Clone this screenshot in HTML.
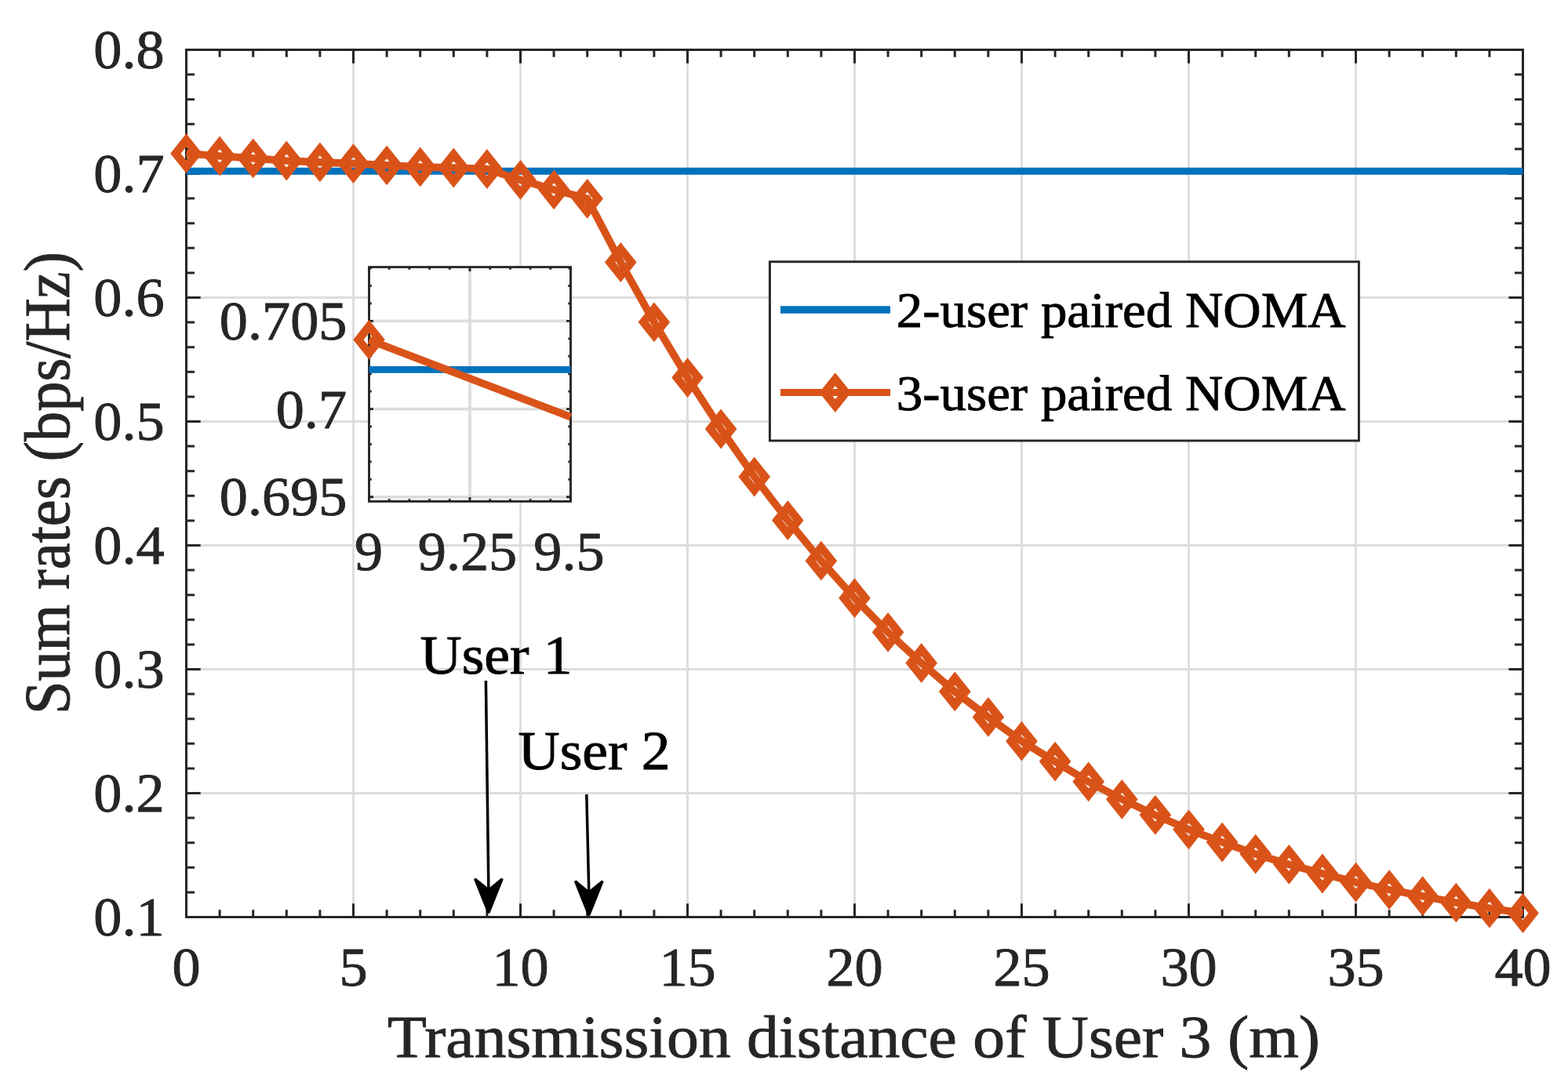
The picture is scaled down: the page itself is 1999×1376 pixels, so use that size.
<!DOCTYPE html><html><head><meta charset="utf-8"><title>Sum rates vs transmission distance</title><style>html,body{margin:0;padding:0;background:#fff;width:1999px;height:1376px;overflow:hidden}svg{display:block}</style></head><body><svg width="1999" height="1376" viewBox="0 0 1999 1376">
<rect width="1999" height="1376" fill="#fff"/>
<path d="M450.50 63.50V1169.50M663.50 63.50V1169.50M876.50 63.50V1169.50M1089.50 63.50V1169.50M1302.50 63.50V1169.50M1515.50 63.50V1169.50M1728.50 63.50V1169.50M237.50 1011.50H1941.50M237.50 853.50H1941.50M237.50 695.50H1941.50M237.50 537.50H1941.50M237.50 379.50H1941.50M237.50 221.50H1941.50" stroke="#dddddd" stroke-width="2.9" fill="none"/>
<path d="M237.50 1169.50v-17.2M237.50 63.50v17.2M280.10 1169.50v-9.2M280.10 63.50v9.2M322.70 1169.50v-9.2M322.70 63.50v9.2M365.30 1169.50v-9.2M365.30 63.50v9.2M407.90 1169.50v-9.2M407.90 63.50v9.2M450.50 1169.50v-17.2M450.50 63.50v17.2M493.10 1169.50v-9.2M493.10 63.50v9.2M535.70 1169.50v-9.2M535.70 63.50v9.2M578.30 1169.50v-9.2M578.30 63.50v9.2M620.90 1169.50v-9.2M620.90 63.50v9.2M663.50 1169.50v-17.2M663.50 63.50v17.2M706.10 1169.50v-9.2M706.10 63.50v9.2M748.70 1169.50v-9.2M748.70 63.50v9.2M791.30 1169.50v-9.2M791.30 63.50v9.2M833.90 1169.50v-9.2M833.90 63.50v9.2M876.50 1169.50v-17.2M876.50 63.50v17.2M919.10 1169.50v-9.2M919.10 63.50v9.2M961.70 1169.50v-9.2M961.70 63.50v9.2M1004.30 1169.50v-9.2M1004.30 63.50v9.2M1046.90 1169.50v-9.2M1046.90 63.50v9.2M1089.50 1169.50v-17.2M1089.50 63.50v17.2M1132.10 1169.50v-9.2M1132.10 63.50v9.2M1174.70 1169.50v-9.2M1174.70 63.50v9.2M1217.30 1169.50v-9.2M1217.30 63.50v9.2M1259.90 1169.50v-9.2M1259.90 63.50v9.2M1302.50 1169.50v-17.2M1302.50 63.50v17.2M1345.10 1169.50v-9.2M1345.10 63.50v9.2M1387.70 1169.50v-9.2M1387.70 63.50v9.2M1430.30 1169.50v-9.2M1430.30 63.50v9.2M1472.90 1169.50v-9.2M1472.90 63.50v9.2M1515.50 1169.50v-17.2M1515.50 63.50v17.2M1558.10 1169.50v-9.2M1558.10 63.50v9.2M1600.70 1169.50v-9.2M1600.70 63.50v9.2M1643.30 1169.50v-9.2M1643.30 63.50v9.2M1685.90 1169.50v-9.2M1685.90 63.50v9.2M1728.50 1169.50v-17.2M1728.50 63.50v17.2M1771.10 1169.50v-9.2M1771.10 63.50v9.2M1813.70 1169.50v-9.2M1813.70 63.50v9.2M1856.30 1169.50v-9.2M1856.30 63.50v9.2M1898.90 1169.50v-9.2M1898.90 63.50v9.2M1941.50 1169.50v-17.2M1941.50 63.50v17.2M237.50 1169.50h18.2M1941.50 1169.50h-18.2M237.50 1137.90h10.5M1941.50 1137.90h-10.5M237.50 1106.30h10.5M1941.50 1106.30h-10.5M237.50 1074.70h10.5M1941.50 1074.70h-10.5M237.50 1043.10h10.5M1941.50 1043.10h-10.5M237.50 1011.50h18.2M1941.50 1011.50h-18.2M237.50 979.90h10.5M1941.50 979.90h-10.5M237.50 948.30h10.5M1941.50 948.30h-10.5M237.50 916.70h10.5M1941.50 916.70h-10.5M237.50 885.10h10.5M1941.50 885.10h-10.5M237.50 853.50h18.2M1941.50 853.50h-18.2M237.50 821.90h10.5M1941.50 821.90h-10.5M237.50 790.30h10.5M1941.50 790.30h-10.5M237.50 758.70h10.5M1941.50 758.70h-10.5M237.50 727.10h10.5M1941.50 727.10h-10.5M237.50 695.50h18.2M1941.50 695.50h-18.2M237.50 663.90h10.5M1941.50 663.90h-10.5M237.50 632.30h10.5M1941.50 632.30h-10.5M237.50 600.70h10.5M1941.50 600.70h-10.5M237.50 569.10h10.5M1941.50 569.10h-10.5M237.50 537.50h18.2M1941.50 537.50h-18.2M237.50 505.90h10.5M1941.50 505.90h-10.5M237.50 474.30h10.5M1941.50 474.30h-10.5M237.50 442.70h10.5M1941.50 442.70h-10.5M237.50 411.10h10.5M1941.50 411.10h-10.5M237.50 379.50h18.2M1941.50 379.50h-18.2M237.50 347.90h10.5M1941.50 347.90h-10.5M237.50 316.30h10.5M1941.50 316.30h-10.5M237.50 284.70h10.5M1941.50 284.70h-10.5M237.50 253.10h10.5M1941.50 253.10h-10.5M237.50 221.50h18.2M1941.50 221.50h-18.2M237.50 189.90h10.5M1941.50 189.90h-10.5M237.50 158.30h10.5M1941.50 158.30h-10.5M237.50 126.70h10.5M1941.50 126.70h-10.5M237.50 95.10h10.5M1941.50 95.10h-10.5M237.50 63.50h18.2M1941.50 63.50h-18.2" stroke="#262626" stroke-width="3.0" fill="none"/>
<rect x="237.5" y="63.5" width="1704.0" height="1106.0" stroke="#262626" stroke-width="3.0" fill="none"/>
<path d="M237.5 218.3H1941.5" stroke="#0072bd" stroke-width="8.9" fill="none"/>
<polyline points="237.50,195.70 280.10,199.00 322.70,201.90 365.30,205.00 407.90,206.90 450.50,208.60 493.10,210.80 535.70,212.90 578.30,214.00 620.90,215.50 663.50,229.30 706.10,241.80 748.70,253.30 791.30,334.50 833.90,410.80 876.50,481.60 919.10,547.00 961.70,608.00 1004.30,663.60 1046.90,715.20 1089.50,762.70 1132.10,806.30 1174.70,845.50 1217.30,881.90 1259.90,914.40 1302.50,945.20 1345.10,971.10 1387.70,996.80 1430.30,1019.30 1472.90,1039.30 1515.50,1057.80 1558.10,1074.10 1600.70,1089.10 1643.30,1102.30 1685.90,1114.00 1728.50,1125.10 1771.10,1134.60 1813.70,1142.70 1856.30,1151.10 1898.90,1158.20 1941.50,1164.50" stroke="#d95319" stroke-width="9.6" fill="none" stroke-linejoin="miter"/>
<path d="M237.50 178.70L251.10 195.70L237.50 212.70L223.90 195.70ZM280.10 182.00L293.70 199.00L280.10 216.00L266.50 199.00ZM322.70 184.90L336.30 201.90L322.70 218.90L309.10 201.90ZM365.30 188.00L378.90 205.00L365.30 222.00L351.70 205.00ZM407.90 189.90L421.50 206.90L407.90 223.90L394.30 206.90ZM450.50 191.60L464.10 208.60L450.50 225.60L436.90 208.60ZM493.10 193.80L506.70 210.80L493.10 227.80L479.50 210.80ZM535.70 195.90L549.30 212.90L535.70 229.90L522.10 212.90ZM578.30 197.00L591.90 214.00L578.30 231.00L564.70 214.00ZM620.90 198.50L634.50 215.50L620.90 232.50L607.30 215.50ZM663.50 212.30L677.10 229.30L663.50 246.30L649.90 229.30ZM706.10 224.80L719.70 241.80L706.10 258.80L692.50 241.80ZM748.70 236.30L762.30 253.30L748.70 270.30L735.10 253.30ZM791.30 317.50L804.90 334.50L791.30 351.50L777.70 334.50ZM833.90 393.80L847.50 410.80L833.90 427.80L820.30 410.80ZM876.50 464.60L890.10 481.60L876.50 498.60L862.90 481.60ZM919.10 530.00L932.70 547.00L919.10 564.00L905.50 547.00ZM961.70 591.00L975.30 608.00L961.70 625.00L948.10 608.00ZM1004.30 646.60L1017.90 663.60L1004.30 680.60L990.70 663.60ZM1046.90 698.20L1060.50 715.20L1046.90 732.20L1033.30 715.20ZM1089.50 745.70L1103.10 762.70L1089.50 779.70L1075.90 762.70ZM1132.10 789.30L1145.70 806.30L1132.10 823.30L1118.50 806.30ZM1174.70 828.50L1188.30 845.50L1174.70 862.50L1161.10 845.50ZM1217.30 864.90L1230.90 881.90L1217.30 898.90L1203.70 881.90ZM1259.90 897.40L1273.50 914.40L1259.90 931.40L1246.30 914.40ZM1302.50 928.20L1316.10 945.20L1302.50 962.20L1288.90 945.20ZM1345.10 954.10L1358.70 971.10L1345.10 988.10L1331.50 971.10ZM1387.70 979.80L1401.30 996.80L1387.70 1013.80L1374.10 996.80ZM1430.30 1002.30L1443.90 1019.30L1430.30 1036.30L1416.70 1019.30ZM1472.90 1022.30L1486.50 1039.30L1472.90 1056.30L1459.30 1039.30ZM1515.50 1040.80L1529.10 1057.80L1515.50 1074.80L1501.90 1057.80ZM1558.10 1057.10L1571.70 1074.10L1558.10 1091.10L1544.50 1074.10ZM1600.70 1072.10L1614.30 1089.10L1600.70 1106.10L1587.10 1089.10ZM1643.30 1085.30L1656.90 1102.30L1643.30 1119.30L1629.70 1102.30ZM1685.90 1097.00L1699.50 1114.00L1685.90 1131.00L1672.30 1114.00ZM1728.50 1108.10L1742.10 1125.10L1728.50 1142.10L1714.90 1125.10ZM1771.10 1117.60L1784.70 1134.60L1771.10 1151.60L1757.50 1134.60ZM1813.70 1125.70L1827.30 1142.70L1813.70 1159.70L1800.10 1142.70ZM1856.30 1134.10L1869.90 1151.10L1856.30 1168.10L1842.70 1151.10ZM1898.90 1141.20L1912.50 1158.20L1898.90 1175.20L1885.30 1158.20ZM1941.50 1147.50L1955.10 1164.50L1941.50 1181.50L1927.90 1164.50Z" stroke="#d95319" stroke-width="10.5" fill="none" stroke-linejoin="miter" stroke-miterlimit="10"/>
<rect x="470.5" y="340.6" width="257.0" height="298.79999999999995" fill="#fff"/>
<path d="M599.00 340.6V639.4M470.5 633.80H727.5M470.5 521.60H727.5M470.5 409.40H727.5" stroke="#dddddd" stroke-width="3.8" fill="none"/>
<path d="M470.50 639.4v-5.5M470.50 340.6v5.5M496.20 639.4v-3.2M496.20 340.6v3.2M521.90 639.4v-3.2M521.90 340.6v3.2M547.60 639.4v-3.2M547.60 340.6v3.2M573.30 639.4v-3.2M573.30 340.6v3.2M599.00 639.4v-5.5M599.00 340.6v5.5M624.70 639.4v-3.2M624.70 340.6v3.2M650.40 639.4v-3.2M650.40 340.6v3.2M676.10 639.4v-3.2M676.10 340.6v3.2M701.80 639.4v-3.2M701.80 340.6v3.2M727.50 639.4v-5.5M727.50 340.6v5.5M470.5 633.80h5.5M727.5 633.80h-5.5M470.5 611.36h3.2M727.5 611.36h-3.2M470.5 588.92h3.2M727.5 588.92h-3.2M470.5 566.48h3.2M727.5 566.48h-3.2M470.5 544.04h3.2M727.5 544.04h-3.2M470.5 521.60h5.5M727.5 521.60h-5.5M470.5 499.16h3.2M727.5 499.16h-3.2M470.5 476.72h3.2M727.5 476.72h-3.2M470.5 454.28h3.2M727.5 454.28h-3.2M470.5 431.84h3.2M727.5 431.84h-3.2M470.5 409.40h5.5M727.5 409.40h-5.5M470.5 386.96h3.2M727.5 386.96h-3.2M470.5 364.52h3.2M727.5 364.52h-3.2M470.5 342.08h3.2M727.5 342.08h-3.2" stroke="#262626" stroke-width="2.9" fill="none"/>
<rect x="470.5" y="340.6" width="257.0" height="298.79999999999995" stroke="#262626" stroke-width="2.9" fill="none"/>
<path d="M470.5 471.4H727.5" stroke="#0072bd" stroke-width="8.9" fill="none"/>
<path d="M470.5 433.6L727.5 531.7" stroke="#d95319" stroke-width="9.6" fill="none"/>
<path d="M470.50 416.20L484.10 433.20L470.50 450.20L456.90 433.20Z" stroke="#d95319" stroke-width="10.5" fill="none"/>
<rect x="981.4" y="333.8" width="751.0000000000001" height="228.2" fill="#fff" stroke="#262626" stroke-width="2.9"/>
<path d="M995 395.0H1135" stroke="#0072bd" stroke-width="9.6"/>
<path d="M995 500.5H1135" stroke="#d95319" stroke-width="9.0"/>
<path d="M1064.80 483.60L1078.40 500.60L1064.80 517.60L1051.20 500.60Z" stroke="#d95319" stroke-width="10.5" fill="none"/>
<path d="M619.4 868.0L622.9 1134.9" stroke="#000" stroke-width="3.5" fill="none"/><path d="M622.9 1164.2L605.5 1120.7L622.9 1134.9L640.3 1120.7Z" fill="#000" stroke="#000" stroke-width="3.2" stroke-linejoin="bevel"/>
<path d="M747.8 1013.0L750.8 1137.9" stroke="#000" stroke-width="3.5" fill="none"/><path d="M750.8 1167.2L733.4 1123.7L750.8 1137.9L768.1999999999999 1123.7Z" fill="#000" stroke="#000" stroke-width="3.2" stroke-linejoin="bevel"/>
<g font-family="'Liberation Serif', 'Times New Roman', serif">
<g transform="translate(209.60 1193.00) scale(1.05 1)"><text x="0" y="0" font-size="68.8" text-anchor="end" fill="#262626" stroke="#262626" stroke-width="0.9">0.1</text></g>
<g transform="translate(209.60 1035.00) scale(1.05 1)"><text x="0" y="0" font-size="68.8" text-anchor="end" fill="#262626" stroke="#262626" stroke-width="0.9">0.2</text></g>
<g transform="translate(209.60 877.00) scale(1.05 1)"><text x="0" y="0" font-size="68.8" text-anchor="end" fill="#262626" stroke="#262626" stroke-width="0.9">0.3</text></g>
<g transform="translate(209.60 719.00) scale(1.05 1)"><text x="0" y="0" font-size="68.8" text-anchor="end" fill="#262626" stroke="#262626" stroke-width="0.9">0.4</text></g>
<g transform="translate(209.60 561.00) scale(1.05 1)"><text x="0" y="0" font-size="68.8" text-anchor="end" fill="#262626" stroke="#262626" stroke-width="0.9">0.5</text></g>
<g transform="translate(209.60 403.00) scale(1.05 1)"><text x="0" y="0" font-size="68.8" text-anchor="end" fill="#262626" stroke="#262626" stroke-width="0.9">0.6</text></g>
<g transform="translate(209.60 245.00) scale(1.05 1)"><text x="0" y="0" font-size="68.8" text-anchor="end" fill="#262626" stroke="#262626" stroke-width="0.9">0.7</text></g>
<g transform="translate(209.60 87.00) scale(1.05 1)"><text x="0" y="0" font-size="68.8" text-anchor="end" fill="#262626" stroke="#262626" stroke-width="0.9">0.8</text></g>
<g transform="translate(237.50 1257.00) scale(1.05 1)"><text x="0" y="0" font-size="68.8" text-anchor="middle" fill="#262626" stroke="#262626" stroke-width="0.9">0</text></g>
<g transform="translate(450.50 1257.00) scale(1.05 1)"><text x="0" y="0" font-size="68.8" text-anchor="middle" fill="#262626" stroke="#262626" stroke-width="0.9">5</text></g>
<g transform="translate(663.50 1257.00) scale(1.05 1)"><text x="0" y="0" font-size="68.8" text-anchor="middle" fill="#262626" stroke="#262626" stroke-width="0.9">10</text></g>
<g transform="translate(876.50 1257.00) scale(1.05 1)"><text x="0" y="0" font-size="68.8" text-anchor="middle" fill="#262626" stroke="#262626" stroke-width="0.9">15</text></g>
<g transform="translate(1089.50 1257.00) scale(1.05 1)"><text x="0" y="0" font-size="68.8" text-anchor="middle" fill="#262626" stroke="#262626" stroke-width="0.9">20</text></g>
<g transform="translate(1302.50 1257.00) scale(1.05 1)"><text x="0" y="0" font-size="68.8" text-anchor="middle" fill="#262626" stroke="#262626" stroke-width="0.9">25</text></g>
<g transform="translate(1515.50 1257.00) scale(1.05 1)"><text x="0" y="0" font-size="68.8" text-anchor="middle" fill="#262626" stroke="#262626" stroke-width="0.9">30</text></g>
<g transform="translate(1728.50 1257.00) scale(1.05 1)"><text x="0" y="0" font-size="68.8" text-anchor="middle" fill="#262626" stroke="#262626" stroke-width="0.9">35</text></g>
<g transform="translate(1941.50 1257.00) scale(1.05 1)"><text x="0" y="0" font-size="68.8" text-anchor="middle" fill="#262626" stroke="#262626" stroke-width="0.9">40</text></g>
<g transform="translate(442.40 433.30) scale(1.05 1)"><text x="0" y="0" font-size="68.8" text-anchor="end" fill="#262626" stroke="#262626" stroke-width="0.9">0.705</text></g>
<g transform="translate(442.00 546.30) scale(1.05 1)"><text x="0" y="0" font-size="68.8" text-anchor="end" fill="#262626" stroke="#262626" stroke-width="0.9">0.7</text></g>
<g transform="translate(442.40 657.30) scale(1.05 1)"><text x="0" y="0" font-size="68.8" text-anchor="end" fill="#262626" stroke="#262626" stroke-width="0.9">0.695</text></g>
<g transform="translate(470.00 727.00) scale(1.05 1)"><text x="0" y="0" font-size="68.8" text-anchor="middle" fill="#262626" stroke="#262626" stroke-width="0.9">9</text></g>
<g transform="translate(596.00 727.00) scale(1.05 1)"><text x="0" y="0" font-size="68.8" text-anchor="middle" fill="#262626" stroke="#262626" stroke-width="0.9">9.25</text></g>
<g transform="translate(725.50 727.00) scale(1.05 1)"><text x="0" y="0" font-size="68.8" text-anchor="middle" fill="#262626" stroke="#262626" stroke-width="0.9">9.5</text></g>
<g transform="translate(1088.50 1347.50) scale(1.07 1)"><text x="0" y="0" font-size="76.4" text-anchor="middle" fill="#262626" stroke="#262626" stroke-width="0.9">Transmission distance of User 3 (m)</text></g>
<g transform="translate(87.5 616) scale(1.07 1) rotate(-90)"><text x="0" y="0" font-size="76.4" text-anchor="middle" fill="#262626" stroke="#262626" stroke-width="0.9">Sum rates (bps/Hz)</text></g>
<g transform="translate(1142.80 417.00) scale(1.07 1)"><text x="0" y="0" font-size="62.6" text-anchor="start" fill="#000" stroke="#000" stroke-width="0.9">2-user paired NOMA</text></g>
<g transform="translate(1142.80 522.80) scale(1.07 1)"><text x="0" y="0" font-size="62.6" text-anchor="start" fill="#000" stroke="#000" stroke-width="0.9">3-user paired NOMA</text></g>
<g transform="translate(535.50 859.40) scale(1.07 1)"><text x="0" y="0" font-size="68.8" text-anchor="start" fill="#000" stroke="#000" stroke-width="0.9">User 1</text></g>
<g transform="translate(660.50 980.80) scale(1.07 1)"><text x="0" y="0" font-size="68.8" text-anchor="start" fill="#000" stroke="#000" stroke-width="0.9">User 2</text></g>
</g>
</svg></body></html>
